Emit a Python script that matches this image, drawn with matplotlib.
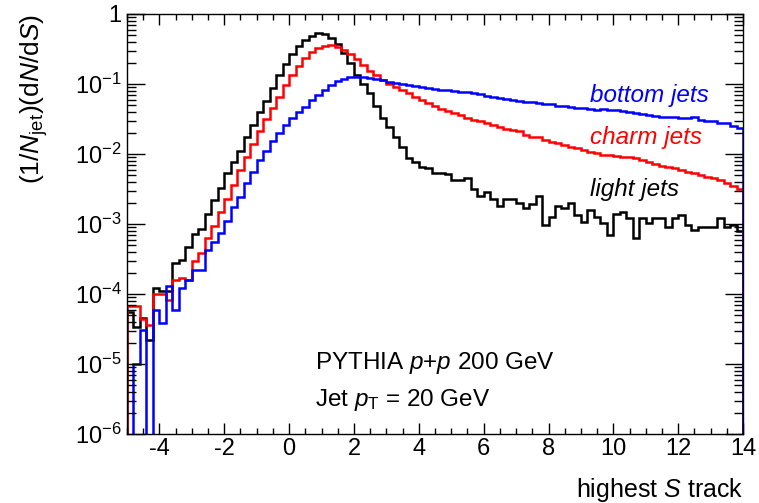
import numpy as np
import matplotlib
matplotlib.use('Agg')
import matplotlib.pyplot as plt
from matplotlib.ticker import FixedLocator, LogLocator, MultipleLocator, FuncFormatter, NullFormatter

plt.rcParams['font.family'] = ['Liberation Sans', 'DejaVu Sans']
plt.rcParams['mathtext.fontset'] = 'custom'
plt.rcParams['mathtext.rm'] = 'Liberation Sans'
plt.rcParams['mathtext.it'] = 'Liberation Sans:italic'
plt.rcParams['mathtext.bf'] = 'Liberation Sans:bold'

# histogram binning: 95 bins of width 0.2 from -5 to 14
bin_edges = np.linspace(-5, 14, 96)

light_jets = [
    5.5e-5, 3.4e-5, 4.5e-5, 2.2e-5, 1.2e-4, 1.1e-4, 1.1e-4, 2.8e-4, 3.1e-4, 4.7e-4,
    7.2e-4, 8.5e-4, 1.4e-3, 2.2e-3, 3.3e-3, 5.3e-3, 7.7e-3, 1.1e-2, 1.75e-2, 2.6e-2,
    4.0e-2, 5.8e-2, 8.8e-2, 0.135, 0.195, 0.27, 0.35, 0.43, 0.49, 0.53,
    0.52, 0.46, 0.37, 0.28, 0.2, 0.135, 0.1, 0.074, 0.048, 0.033,
    0.024, 0.0175, 0.0126, 0.0088, 0.0077, 0.0065, 0.0063, 0.0054, 0.0053, 0.0051,
    0.0042, 0.0042, 0.0045, 0.0032, 0.0025, 0.0029, 0.0023, 0.0018, 0.0023, 0.0023,
    0.002, 0.0017, 0.0019, 0.0025, 0.00097, 0.00126, 0.0018, 0.0017, 0.002, 0.00135,
    0.00107, 0.0016, 0.00126, 0.00103, 0.00069, 0.0014, 0.0015, 0.0012, 0.00063, 0.0012,
    0.00103, 0.0012, 0.0012, 0.00091, 0.0012, 0.00135, 0.00097, 0.00083, 0.00091, 0.00091,
    0.00091, 0.0012, 0.00091, 0.00097, 0.00079,
]

charm_jets = [
    6.7e-5, 6.7e-5, 4.4e-5, 3.6e-5, 1.0e-4, 1.0e-4, 8.2e-5, 1.6e-4, 1.7e-4, 1.6e-4,
    3.0e-4, 3.8e-4, 6.4e-4, 9.5e-4, 1.5e-3, 2.3e-3, 3.6e-3, 5.9e-3, 9.1e-3, 1.4e-2,
    2.1e-2, 3.2e-2, 4.6e-2, 6.5e-2, 9.7e-2, 0.135, 0.18, 0.235, 0.29, 0.33,
    0.35, 0.355, 0.34, 0.31, 0.27, 0.225, 0.185, 0.155, 0.135, 0.115,
    0.1, 0.09, 0.082, 0.074, 0.066, 0.059, 0.053, 0.048, 0.044, 0.041,
    0.038, 0.036, 0.033, 0.031, 0.030, 0.0275, 0.026, 0.0245, 0.023, 0.022,
    0.021, 0.0188, 0.0172, 0.0177, 0.016, 0.015, 0.0142, 0.0134, 0.0126, 0.012,
    0.0114, 0.0108, 0.0102, 0.0098, 0.0097, 0.0093, 0.009, 0.0092, 0.0087, 0.0082,
    0.0078, 0.0072, 0.0068, 0.0065, 0.0063, 0.0059, 0.0056, 0.0053, 0.005, 0.0047,
    0.0045, 0.0042, 0.0038, 0.0035, 0.0032,
]

bottom_jets = [
    0, 1.0e-5, 3.1e-5, 0, 5.9e-5, 3.8e-5, 1.3e-4, 5.9e-5, 1.2e-4, 1.6e-4,
    2.2e-4, 2.2e-4, 4.3e-4, 5.6e-4, 7.4e-4, 1.1e-3, 1.75e-3, 2.4e-3, 3.8e-3, 5.5e-3,
    8.2e-3, 1.1e-2, 1.55e-2, 2.0e-2, 2.6e-2, 3.3e-2, 4.0e-2, 4.7e-2, 5.9e-2, 7.0e-2,
    8.2e-2, 0.098, 0.11, 0.118, 0.124, 0.126, 0.125, 0.122, 0.118, 0.113,
    0.108, 0.104, 0.1, 0.096, 0.093, 0.09, 0.088, 0.085, 0.083, 0.081,
    0.079, 0.078, 0.077, 0.075, 0.071, 0.068, 0.066, 0.064, 0.061, 0.06,
    0.057, 0.056, 0.055, 0.053, 0.052, 0.051, 0.049, 0.048, 0.047, 0.046,
    0.045, 0.044, 0.043, 0.0435, 0.043, 0.042, 0.041, 0.0395, 0.039, 0.037,
    0.036, 0.035, 0.034, 0.034, 0.0335, 0.033, 0.0324, 0.0334, 0.031, 0.030,
    0.030, 0.028, 0.0274, 0.025, 0.0235,
]

series = [
    (light_jets, 'black', 'light jets'),
    (charm_jets, 'red', 'charm jets'),
    (bottom_jets, 'blue', 'bottom jets'),
]

fig = plt.figure(figsize=(7.59, 5.03), dpi=100)
ax = fig.add_axes([0.1673, 0.1372, 0.8117, 0.835])

for vals, col, name in series:
    v = np.array(vals, dtype=float)
    v = np.where(v > 0, v, 1e-12)  # empty bins drop below the axis
    ax.stairs(v, bin_edges, baseline=1e-12, color=col, lw=1.8)

ax.set_yscale('log')
ax.set_xlim(-5, 14)
ax.set_ylim(1e-6, 1)

# ROOT style ticks on all four sides
ax.xaxis.set_major_locator(FixedLocator([-4, -2, 0, 2, 4, 6, 8, 10, 12, 14]))
ax.xaxis.set_minor_locator(MultipleLocator(0.5))
ax.yaxis.set_major_locator(LogLocator(base=10, numticks=20))
ax.yaxis.set_minor_locator(LogLocator(base=10, subs=np.arange(2, 10), numticks=20))
ax.yaxis.set_minor_formatter(NullFormatter())

def ylab(v, pos):
    e = int(round(np.log10(v)))
    if e == 0:
        return '1'
    return r'$\mathregular{10^{%d}}$' % e

ax.yaxis.set_major_formatter(FuncFormatter(ylab))
ax.xaxis.set_major_formatter(FuncFormatter(lambda v, p: '%d' % v))

ax.tick_params(which='both', direction='in', top=True, right=True, width=1.0, colors='black')
ax.tick_params(axis='x', which='major', length=8, pad=3, labelsize=17)
ax.tick_params(axis='x', which='minor', length=4)
ax.tick_params(axis='y', which='major', length=13, pad=4, labelsize=17)
ax.tick_params(axis='y', which='minor', length=6.5)
for s in ax.spines.values():
    s.set_linewidth(1.0)

ax.set_xlabel(r'highest $S$ track', fontsize=18, loc='right')
ax.xaxis.set_label_coords(1.0, -0.10)
ax.set_ylabel(r'(1/$N_{\mathrm{jet}}$)(d$N$/d$S$)', fontsize=19, loc='top')
ax.yaxis.set_label_coords(-0.125, 1.0)

ax.text(0.752, 0.807, 'bottom jets', color='blue', style='italic', fontsize=17.5,
        transform=ax.transAxes, va='center')
ax.text(0.752, 0.705, 'charm jets', color='red', style='italic', fontsize=17.5,
        transform=ax.transAxes, va='center')
ax.text(0.752, 0.581, 'light jets', color='black', style='italic', fontsize=17.5,
        transform=ax.transAxes, va='center')

ax.text(0.305, 0.169, r'PYTHIA $p$+$p$ 200 GeV', fontsize=17.5, transform=ax.transAxes, va='center')
ax.text(0.305, 0.081, r'Jet $p_{\mathrm{T}}$ = 20 GeV', fontsize=17.5, transform=ax.transAxes, va='center')

fig.savefig('out.png', dpi=100)
